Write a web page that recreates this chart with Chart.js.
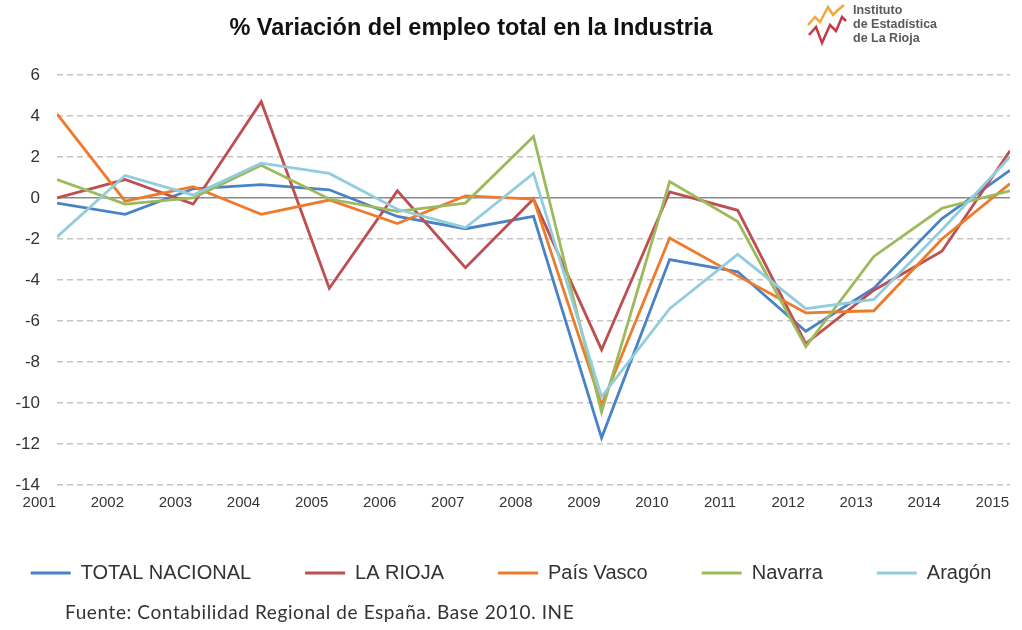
<!DOCTYPE html>
<html lang="es">
<head>
<meta charset="UTF-8">
<title>% Variación del empleo total en la Industria</title>
<script src="https://cdn.jsdelivr.net/npm/chart.js@4.4.1/dist/chart.umd.min.js"></script>
<style>
  body { margin: 0; background: #fff; }
  #wrap { position: relative; width: 1022px; height: 630px; font-family: "Liberation Sans", Arial, sans-serif; }
  #titulo { position: absolute; left: 0; top: 14px; width: 942px; text-align: center; font-weight: bold; font-size: 23.5px; color: #111; }
  #logo { position: absolute; left: 806px; top: 3px; }
  #logo-txt { position: absolute; left: 853px; top: 3px; font-weight: bold; font-size: 12.5px; line-height: 14px; color: #5a5a5a; }
  #fuente { position: absolute; left: 65px; top: 600px; font-family: Lato, "Open Sans", sans-serif; font-size: 19px; letter-spacing: 0.6px; color: #333; }
</style>
</head>
<body>
<div id="wrap">
  <canvas id="grafico" width="1022" height="630"></canvas>
  <div id="titulo">% Variación del empleo total en la Industria</div>
  <svg id="logo" width="42" height="44" viewBox="0 0 42 44">
    <polyline points="2,22 9,14 14,19 22,4 27,12 32,7 38,2" fill="none" stroke="#f2a93b" stroke-width="2.5"/>
    <polyline points="3,32 10,24 16,40 24,22 30,28 36,14 40,18" fill="none" stroke="#c23b4a" stroke-width="2.5"/>
  </svg>
  <div id="logo-txt">Instituto<br>de Estadística<br>de La Rioja</div>
  <div id="fuente">Fuente: Contabilidad Regional de España. Base 2010. INE</div>
</div>

<script>
  const years = ['2001', '2002', '2003', '2004', '2005', '2006', '2007', '2008',
                 '2009', '2010', '2011', '2012', '2013', '2014', '2015'];

  const totalNacional = [-0.25, -0.8, 0.45, 0.65, 0.4, -0.9, -1.5, -0.9, -11.7, -3.0, -3.6, -6.5, -4.4, -1.0, 1.35];
  const laRioja       = [0.0, 0.9, -0.3, 4.7, -4.4, 0.35, -3.4, -0.05, -7.4, 0.3, -0.6, -7.1, -4.5, -2.6, 2.3];
  const paisVasco     = [4.1, -0.15, 0.55, -0.8, -0.1, -1.25, 0.1, -0.05, -10.1, -1.95, -3.8, -5.6, -5.5, -2.0, 0.7];
  const navarra       = [0.9, -0.3, 0.0, 1.6, -0.05, -0.65, -0.25, 3.0, -10.45, 0.8, -1.15, -7.25, -2.85, -0.5, 0.35];
  const aragon        = [-1.9, 1.1, 0.15, 1.7, 1.2, -0.55, -1.45, 1.2, -9.7, -5.4, -2.75, -5.4, -4.95, -1.55, 2.0];

  const yTicks = [-14, -12, -10, -8, -6, -4, -2, 0, 2, 4, 6];

  // the year labels sit a bit left of the points, like in the original sheet
  const labelShift = -0.26;

  function serie(label, values, color, order) {
    return {
      label: label,
      data: values.map((v, i) => ({ x: i, y: v })),
      borderColor: color,
      backgroundColor: color,
      borderWidth: 2.8,
      pointRadius: 0,
      tension: 0,
      order: order
    };
  }

  new Chart(document.getElementById('grafico'), {
    type: 'line',
    data: {
      datasets: [
        serie('TOTAL NACIONAL', totalNacional, '#4a82c6', 5),
        serie('LA RIOJA', laRioja, '#be4f50', 4),
        serie('País Vasco', paisVasco, '#ee7b2c', 3),
        serie('Navarra', navarra, '#9cba5c', 2),
        serie('Aragón', aragon, '#92cddd', 1)
      ]
    },
    options: {
      responsive: false,
      animation: false,
      devicePixelRatio: 1,
      // negative sides so the legend row gets the whole width
      layout: { padding: { top: 75, left: -30, right: -30, bottom: 41 } },
      plugins: {
        title: { display: false },
        tooltip: { enabled: false },
        legend: {
          position: 'bottom',
          maxHeight: 80,
          labels: {
            usePointStyle: true,
            pointStyle: 'line',
            pointStyleWidth: 40,
            padding: 54,
            color: '#333',
            font: { family: '"Liberation Sans", Arial, sans-serif', size: 20 },
            sort: (a, b) => a.datasetIndex - b.datasetIndex
          }
        }
      },
      scales: {
        x: {
          type: 'linear',
          min: 0,
          max: years.length - 1,
          grid: { display: false, drawTicks: false },
          border: { display: false },
          afterBuildTicks: (scale) => {
            scale.ticks = years.map((y, i) => ({ value: i + labelShift }));
          },
          afterFit: (scale) => {
            scale.height = 24;
            scale.paddingLeft = 0;
            scale.paddingRight = 12;
          },
          ticks: {
            autoSkip: false,
            maxRotation: 0,
            padding: 9,
            color: '#333',
            font: { family: '"Liberation Sans", Arial, sans-serif', size: 15 },
            callback: (value, index) => years[index]
          }
        },
        y: {
          min: yTicks[0],
          max: yTicks[yTicks.length - 1],
          afterBuildTicks: (scale) => {
            scale.ticks = yTicks.map(v => ({ value: v }));
          },
          afterFit: (scale) => {
            scale.width = 87;
          },
          grid: {
            drawTicks: false,
            lineWidth: 1.5,
            color: (ctx) => (ctx.tick && ctx.tick.value === 0) ? '#8a8a8a' : '#c4c4c4'
          },
          border: {
            display: false,
            dash: (ctx) => (ctx.tick && ctx.tick.value === 0) ? [] : [6, 4]
          },
          ticks: {
            padding: 17,
            color: '#333',
            font: { family: '"Liberation Sans", Arial, sans-serif', size: 17 }
          }
        }
      }
    }
  });
</script>
</body>
</html>
